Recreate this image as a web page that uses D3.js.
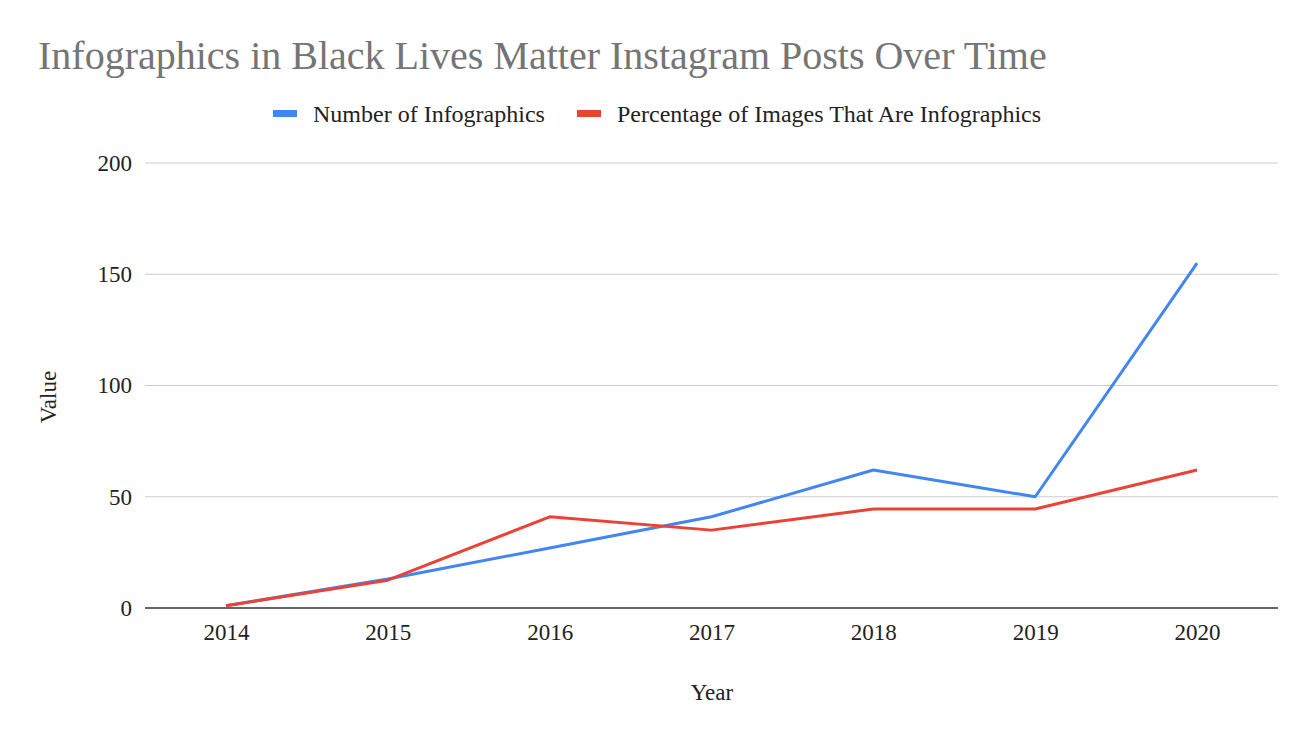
<!DOCTYPE html>
<html>
<head>
<meta charset="utf-8">
<script src="https://cdn.jsdelivr.net/npm/d3@7"></script>
<style>
  body { margin: 0; background: #fff; }
  text { font-family: "Liberation Serif", "Times New Roman", serif; }
</style>
</head>
<body>
<div id="chart"></div>
<script>
// chart data
const years = ["2014", "2015", "2016", "2017", "2018", "2019", "2020"];
const numberOfInfographics = [1, 13, 27, 41, 62, 50, 155];
const percentInfographics = [1, 12.5, 41, 35, 44.5, 44.5, 62];
const yTicks = [0, 50, 100, 150, 200];
const seriesNames = ["Number of Infographics", "Percentage of Images That Are Infographics"];
const colors = ["#4285f4", "#ea4335"];

const width = 1316;
const height = 742;
const margin = { top: 163, right: 38, bottom: 134, left: 145 };

const svg = d3.select("#chart")
    .append("svg")
    .attr("width", width)
    .attr("height", height);

const x = d3.scalePoint()
    .domain(years)
    .range([margin.left, width - margin.right])
    .padding(0.5);

const y = d3.scaleLinear()
    .domain([0, 200])
    .range([height - margin.bottom, margin.top]);

// title
svg.append("text")
    .attr("x", 38)
    .attr("y", 69)
    .attr("font-size", 40)
    .attr("fill", "#757575")
    .text("Infographics in Black Lives Matter Instagram Posts Over Time");

// gridlines
svg.append("g")
    .selectAll("line")
    .data(yTicks.filter(d => d > 0))
    .enter()
    .append("line")
    .attr("x1", margin.left)
    .attr("x2", width - margin.right)
    .attr("y1", d => y(d))
    .attr("y2", d => y(d))
    .attr("stroke", "#cccccc")
    .attr("stroke-width", 1);

// y axis labels
const yAxis = svg.append("g")
    .attr("transform", `translate(${margin.left},0)`)
    .call(d3.axisLeft(y).tickValues(yTicks).tickSize(0).tickPadding(13));
yAxis.select(".domain").remove();
yAxis.selectAll("text")
    .attr("font-size", 23)
    .attr("fill", "#222");

// x axis
const xAxis = svg.append("g")
    .attr("transform", `translate(0,${y(0)})`)
    .call(d3.axisBottom(x).tickSize(0).tickPadding(16));
xAxis.select(".domain").remove();
xAxis.selectAll("text")
    .attr("font-size", 23)
    .attr("fill", "#222");

// zero baseline
svg.append("line")
    .attr("x1", margin.left)
    .attr("x2", width - margin.right)
    .attr("y1", y(0))
    .attr("y2", y(0))
    .attr("stroke", "#333")
    .attr("stroke-width", 1.6);

// lines
const line = d3.line()
    .x((d, i) => x(years[i]))
    .y(d => y(d));

[numberOfInfographics, percentInfographics].forEach((series, i) => {
    svg.append("path")
        .datum(series)
        .attr("fill", "none")
        .attr("stroke", colors[i])
        .attr("stroke-width", 3)
        .attr("stroke-linejoin", "round")
        .attr("d", line);
});

// axis titles
svg.append("text")
    .attr("x", 712)
    .attr("y", 700)
    .attr("text-anchor", "middle")
    .attr("font-size", 23)
    .attr("fill", "#222")
    .text("Year");

svg.append("text")
    .attr("transform", "translate(56,397) rotate(-90)")
    .attr("text-anchor", "middle")
    .attr("font-size", 23)
    .attr("fill", "#222")
    .text("Value");

// legend
const legendX = [273, 577];
const legend = svg.selectAll(".legend")
    .data(seriesNames)
    .enter()
    .append("g")
    .attr("class", "legend")
    .attr("transform", (d, i) => `translate(${legendX[i]},114)`);

legend.append("rect")
    .attr("x", 0)
    .attr("y", -4)
    .attr("width", 24)
    .attr("height", 7)
    .attr("fill", (d, i) => colors[i]);

legend.append("text")
    .attr("x", 40)
    .attr("y", 7.5)
    .attr("font-size", 24)
    .attr("fill", "#222")
    .text(d => d);
</script>
</body>
</html>
